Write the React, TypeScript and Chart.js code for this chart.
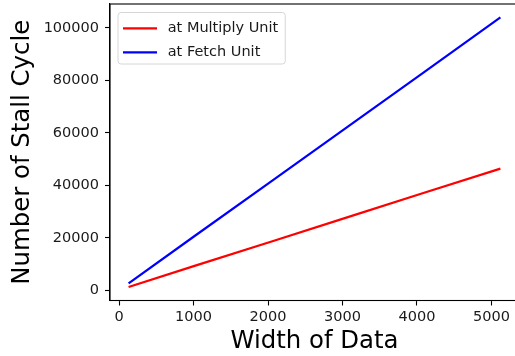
import React, { useEffect, useRef } from "react";
import { Chart, registerables } from "chart.js";

Chart.register(...registerables);

const widths = [128, 1024, 2048, 3072, 4096, 5120];
const multiplyStalls = [1250, 9400, 18600, 27900, 37200, 46400];
const fetchStalls = [2650, 20900, 41600, 62400, 83200, 104000];
const xTicks = [0, 1000, 2000, 3000, 4000, 5000];
const yTicks = [0, 20000, 40000, 60000, 80000, 100000];
const seriesLabels = ["at Multiply Unit", "at Fetch Unit"];
const seriesColors = ["#ff0000", "#0000ff"];

const FONT = "'DejaVu Sans', sans-serif";

const frameAndLegend = {
  id: "frameAndLegend",
  afterDraw(chart: any) {
    const ctx = chart.ctx;
    const a = chart.chartArea;
    ctx.save();
    ctx.strokeStyle = "#000";
    ctx.lineWidth = 1.1;
    ctx.strokeRect(a.left, a.top, a.right - a.left, a.bottom - a.top);

    // legend
    ctx.font = `14.5px ${FONT}`;
    const labels = chart.data.datasets.map((d: any) => d.label);
    const textW = Math.max(...labels.map((l: string) => ctx.measureText(l).width));
    const bx = a.left + 8;
    const by = a.top + 8.5;
    const bw = 49.7 + textW + 7;
    const bh = 51.5;
    const r = 3;
    ctx.beginPath();
    ctx.moveTo(bx + r, by);
    ctx.lineTo(bx + bw - r, by);
    ctx.quadraticCurveTo(bx + bw, by, bx + bw, by + r);
    ctx.lineTo(bx + bw, by + bh - r);
    ctx.quadraticCurveTo(bx + bw, by + bh, bx + bw - r, by + bh);
    ctx.lineTo(bx + r, by + bh);
    ctx.quadraticCurveTo(bx, by + bh, bx, by + bh - r);
    ctx.lineTo(bx, by + r);
    ctx.quadraticCurveTo(bx, by, bx + r, by);
    ctx.closePath();
    ctx.fillStyle = "rgba(255,255,255,0.8)";
    ctx.fill();
    ctx.strokeStyle = "#d6d6d6";
    ctx.lineWidth = 1;
    ctx.stroke();

    chart.data.datasets.forEach((d: any, i: number) => {
      const y = by + 15.8 + i * 24;
      ctx.strokeStyle = d.borderColor;
      ctx.lineWidth = 2.2;
      ctx.beginPath();
      ctx.moveTo(bx + 5, y);
      ctx.lineTo(bx + 39, y);
      ctx.stroke();
      ctx.fillStyle = "#1a1a1a";
      ctx.textBaseline = "middle";
      ctx.textAlign = "left";
      ctx.fillText(d.label, bx + 49.7, y);
    });
    ctx.restore();
  },
};

export default function App() {
  const ref = useRef<HTMLCanvasElement>(null);
  useEffect(() => {
    if (!ref.current) return;
    const chart = new Chart(ref.current, {
      type: "line",
      data: {
        datasets: [
          {
            label: seriesLabels[0],
            data: widths.map((w, i) => ({ x: w, y: multiplyStalls[i] })),
            borderColor: seriesColors[0],
            backgroundColor: seriesColors[0],
            borderWidth: 2.2,
            pointRadius: 0,
            tension: 0,
          },
          {
            label: seriesLabels[1],
            data: widths.map((w, i) => ({ x: w, y: fetchStalls[i] })),
            borderColor: seriesColors[1],
            backgroundColor: seriesColors[1],
            borderWidth: 2.2,
            pointRadius: 0,
            tension: 0,
          },
        ],
      },
      options: {
        responsive: false,
        animation: false,
        layout: { padding: { top: 4, right: 6, left: 0, bottom: 0 } },
        plugins: { legend: { display: false }, tooltip: { enabled: false } },
        scales: {
          x: {
            type: "linear",
            min: -121.6,
            max: 5369.6,
            afterBuildTicks: (s: any) => {
              s.ticks = xTicks.map((v) => ({ value: v }));
            },
            afterFit: (s: any) => {
              s.height = 55.5;
              s.paddingLeft = 0;
              s.paddingRight = 0;
            },
            grid: {
              drawOnChartArea: false,
              drawTicks: true,
              tickLength: 5,
              tickColor: "#000",
              tickWidth: 1.1,
            },
            border: { display: true, color: "#000", width: 1.1 },
            ticks: {
              autoSkip: false,
              maxRotation: 0,
              padding: 3,
              color: "#1a1a1a",
              font: { family: FONT, size: 14.5 },
              callback: (v: any) => String(v),
            },
            title: {
              display: true,
              text: "Width of Data",
              color: "#000",
              font: { family: FONT, size: 24.4 },
              padding: { top: 0, bottom: 0 },
            },
          },
          y: {
            type: "linear",
            min: -3880,
            max: 109137,
            afterBuildTicks: (s: any) => {
              s.ticks = yTicks.map((v) => ({ value: v }));
            },
            afterFit: (s: any) => {
              s.width = 110;
              s.paddingTop = 0;
              s.paddingBottom = 0;
            },
            grid: {
              drawOnChartArea: false,
              drawTicks: true,
              tickLength: 5,
              tickColor: "#000",
              tickWidth: 1.1,
            },
            border: { display: true, color: "#000", width: 1.1 },
            ticks: {
              autoSkip: false,
              padding: 6,
              color: "#1a1a1a",
              font: { family: FONT, size: 14.5 },
              callback: (v: any) => String(v),
            },
            title: {
              display: true,
              text: "Number of Stall Cycle",
              color: "#000",
              font: { family: FONT, size: 24.4 },
              padding: { top: 8, bottom: 0 },
            },
          },
        },
      },
      plugins: [frameAndLegend],
    } as any);
    return () => chart.destroy();
  }, []);

  return (
    <div
      style={{
        position: "fixed",
        left: 0,
        top: 0,
        width: 515,
        height: 356,
        overflow: "hidden",
        background: "#fff",
      }}
    >
      <div style={{ width: 525, height: 356 }}>
        <canvas
          ref={ref}
          width={525}
          height={356}
          style={{ display: "block", width: 525, height: 356 }}
        />
      </div>
    </div>
  );
}
